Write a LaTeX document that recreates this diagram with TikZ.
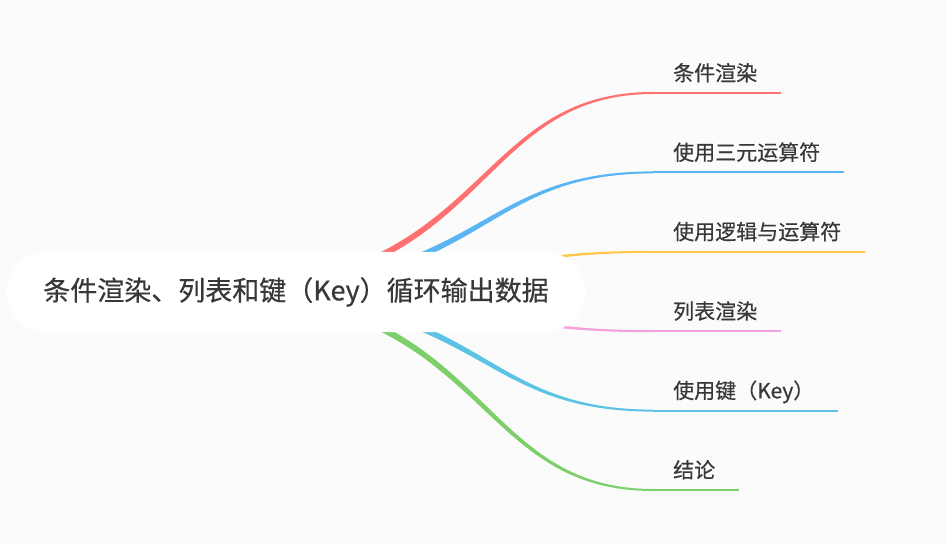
\documentclass[tikz,border=0pt]{standalone}
\usepackage{fontspec}
\setmainfont{Noto Sans CJK SC}[FakeBold=0.5]
\usetikzlibrary{positioning,calc}
\definecolor{bgcol}{HTML}{FBFBFB}
\definecolor{txtcol}{HTML}{383838}
\definecolor{condcol}{HTML}{FF7070}
\definecolor{terncol}{HTML}{5BB5F2}
\definecolor{logiccol}{HTML}{FFC84B}
\definecolor{listcol}{HTML}{F2A0DE}
\definecolor{keycol}{HTML}{5CC3E5}
\definecolor{conclcol}{HTML}{7DCF6B}

\begin{document}
\begin{tikzpicture}[x=1pt,y=-1pt]
    \tikzset{topic/.style={fill=white, rounded corners=40pt, minimum width=578pt,
             minimum height=80pt, inner sep=0pt, text=txtcol,
             font=\fontsize{27}{32}\selectfont},
             sub/.style={anchor=south west, inner xsep=20pt, inner ysep=9.5pt,
             text height=18.5pt, text depth=2.5pt, text=txtcol,
             font=\fontsize{21}{25}\selectfont},
             uline/.style={line width=2pt}}
    \fill[bgcol] (0,0) rectangle (947,545);
    \useasboundingbox (0,0) rectangle (947,545);
    \coordinate (hub) at (205,292);
    % sub topics, each sits on its own underline
    \node[sub] (cond)  at (653,93.0)  {条件渲染};
    \node[sub] (tern)  at (653,172.4) {使用三元运算符};
    \node[sub] (logic) at (653,251.8) {使用逻辑与运算符};
    \node[sub] (list)  at (653,331.2) {列表渲染};
    \node[sub] (keyed) at (653,410.6) {使用键（Key）};
    \node[sub] (concl) at (653,490.0) {结论};
    \draw[uline, condcol]  (cond.south west)  -- ($(cond.south east)+(4,0)$);
    \draw[uline, terncol]  (tern.south west)  -- ($(tern.south east)+(4,0)$);
    \draw[uline, logiccol] (logic.south west) -- ($(logic.south east)+(4,0)$);
    \draw[uline, listcol]  (list.south west)  -- ($(list.south east)+(4,0)$);
    \draw[uline, keycol]   (keyed.south west) -- ($(keyed.south east)+(4,0)$);
    \draw[uline, conclcol] (concl.south west) -- ($(concl.south east)+(4,0)$);
    % tapered branches, thick at the hub
    \fill[condcol] ($(hub)+(0,-3.5)$) .. controls +(284.5,0) and +(-185.5,0) .. ($(cond.south west)+(0,-1)$)
      -- ($(cond.south west)+(0,1)$) .. controls +(-182.5,0) and +(287.5,0) .. ($(hub)+(0,3.5)$) -- cycle;
    \fill[terncol] ($(hub)+(0,-3.5)$) .. controls +(284.5,0) and +(-185.5,0) .. ($(tern.south west)+(0,-1)$)
      -- ($(tern.south west)+(0,1)$) .. controls +(-182.5,0) and +(287.5,0) .. ($(hub)+(0,3.5)$) -- cycle;
    \fill[logiccol] ($(hub)+(0,-3.5)$) .. controls +(286,0) and +(-184,0) .. ($(logic.south west)+(0,-1)$)
      -- ($(logic.south west)+(0,1)$) .. controls +(-184,0) and +(286,0) .. ($(hub)+(0,3.5)$) -- cycle;
    \fill[listcol] ($(hub)+(0,-3.5)$) .. controls +(286,0) and +(-184,0) .. ($(list.south west)+(0,-1)$)
      -- ($(list.south west)+(0,1)$) .. controls +(-184,0) and +(286,0) .. ($(hub)+(0,3.5)$) -- cycle;
    \fill[keycol] ($(hub)+(0,-3.5)$) .. controls +(287.5,0) and +(-182.5,0) .. ($(keyed.south west)+(0,-1)$)
      -- ($(keyed.south west)+(0,1)$) .. controls +(-185.5,0) and +(284.5,0) .. ($(hub)+(0,3.5)$) -- cycle;
    \fill[conclcol] ($(hub)+(0,-3.5)$) .. controls +(287.5,0) and +(-182.5,0) .. ($(concl.south west)+(0,-1)$)
      -- ($(concl.south west)+(0,1)$) .. controls +(-185.5,0) and +(284.5,0) .. ($(hub)+(0,3.5)$) -- cycle;
    % central topic covers the roots
    \node[topic] (root) at (296,292) {条件渲染、列表和键（Key）循环输出数据};
  \end{tikzpicture}
\end{document}
